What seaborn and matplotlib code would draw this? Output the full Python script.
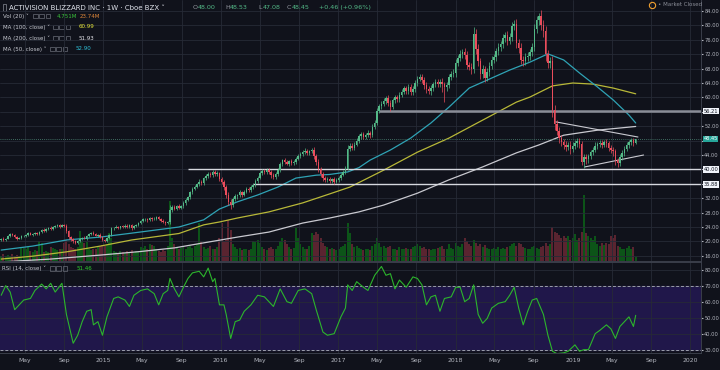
import numpy as np
import pandas as pd
import matplotlib
matplotlib.use("Agg")
import matplotlib.pyplot as plt
import matplotlib.dates as mdates
import matplotlib.transforms as mtransforms
from matplotlib.patches import Rectangle
from matplotlib.lines import Line2D
import seaborn as sns

# ---------------- data (weekly bars, first bar week of 2014-02-17) ----------------
start_date = "2014-02-17"
first_open = 20.5
closes = [
    20.7, 20.3, 20.8, 21.5, 22.0, 21.8, 21.2, 20.8, 21.0, 21.4,
    21.6, 21.8, 22.2, 21.9, 22.0, 22.3, 22.1, 22.6, 23.2, 23.0,
    23.4, 23.8, 23.5, 24.0, 24.2, 24.5, 24.1, 24.6, 24.3, 22.8,
    21.2, 20.6, 20.0, 19.6, 20.1, 20.6, 21.0, 20.8, 21.4, 22.0,
    22.4, 22.1, 21.6, 21.8, 21.3, 20.4, 20.2, 21.0, 21.8, 23.6,
    23.8, 24.1, 23.8, 24.2, 23.9, 24.4, 24.0, 24.5, 23.7, 24.2,
    24.6, 25.1, 25.7, 26.1, 26.3, 25.9, 26.4, 26.1, 26.3, 26.7,
    26.2, 25.8, 25.4, 25.0, 25.3, 28.8, 29.6, 29.1, 29.8, 29.4,
    29.7, 30.6, 31.6, 32.2, 33.6, 34.6, 35.2, 35.9, 36.6, 36.2,
    37.5, 38.2, 38.8, 38.4, 39.2, 38.7, 38.9, 37.4, 36.6, 35.2,
    33.0, 31.0, 30.2, 31.8, 32.5, 32.8, 33.6, 33.0, 33.8, 34.6,
    34.2, 35.0, 35.6, 36.8, 37.6, 39.0, 39.5, 39.2, 39.8, 39.3,
    38.4, 37.8, 38.6, 39.8, 41.5, 42.5, 42.0, 41.6, 42.2, 41.7,
    42.0, 43.0, 43.6, 44.2, 44.8, 45.2, 44.6, 45.0, 45.4, 43.6,
    42.0, 40.0, 38.6, 37.6, 37.0, 37.4, 36.8, 37.2, 36.6, 37.0,
    37.6, 38.5, 39.4, 40.2, 45.8, 46.6, 46.0, 46.9, 48.0, 49.2,
    49.8, 49.0, 49.6, 50.2, 49.5, 51.8, 53.0, 56.2, 57.5, 58.2,
    59.0, 59.8, 58.4, 57.4, 59.2, 60.0, 59.5, 60.8, 61.6, 62.5,
    61.8, 62.8, 61.6, 62.4, 64.0, 65.2, 65.6, 64.8, 63.4, 62.2,
    61.8, 62.6, 63.6, 64.2, 63.8, 64.4, 63.6, 62.8, 63.5, 65.6,
    66.5, 66.8, 69.5, 71.0, 72.0, 72.5, 71.8, 69.0, 68.5, 67.8,
    77.5, 73.5, 70.0, 66.5, 67.8, 65.5, 67.0, 68.8, 70.5, 71.2,
    72.8, 74.0, 74.8, 76.5, 77.2, 75.8, 76.8, 79.8, 80.5, 75.0,
    73.8, 70.5, 70.0, 71.2, 71.5, 72.5, 74.0, 79.0, 81.5, 82.5,
    80.0, 78.4, 72.0, 69.5, 70.0, 56.5, 52.5, 50.8, 48.6, 47.5,
    46.8, 46.2, 46.9, 45.8, 46.5, 47.4, 47.8, 47.0, 42.0, 43.4,
    42.8, 43.6, 44.8, 45.4, 46.6, 47.0, 47.4, 46.8, 47.6, 47.2,
    46.0, 45.4, 45.0, 42.6, 41.8, 43.5, 44.6, 45.8, 46.8, 47.6,
    48.2, 47.4, 48.45,
]
upper_wick = [
    .3, .4, .2, .3, .3, .4, .3, .2, .3, .3,
    .3, .2, .3, .4, .2, .3, .3, .2, .3, .4,
    .3, .2, .4, .3, .3, .2, .4, .3, .3, .4,
    .5, .3, .4, .3, .3, .3, .2, .4, .3, .3,
    .3, .4, .3, .2, .4, .3, .3, .2, .3, .4,
    .3, .4, .3, .2, .4, .3, .3, .4, .3, .3,
    .3, .4, .3, .4, .3, .3, .4, .3, .4, .3,
    .4, .3, .4, .3, .3, 1.2, .5, .6, .4, .5,
    .4, .5, .4, .5, .4, .6, .5, .4, .6, .5,
    .5, .6, .4, .6, .5, .6, .7, .5, .6, .5,
    .6, .8, .7, .5, .6, .5, .6, .5, .6, .5,
    .5, .6, .5, .6, .5, .6, .7, .5, .6, .5,
    .6, .5, .6, .5, .6, .5, .7, .6, .5, .6,
    .6, .5, .6, .5, .6, .7, .6, .5, .6, .9,
    .7, .8, .7, .6, .6, .5, .6, .5, .6, .5,
    .5, .6, .5, .7, 1.0, .8, .7, .6, .7, .6,
    .6, .7, .6, .7, .6, .7, .8, .9, .8, .7,
    .8, .7, .9, .8, .7, .8, .7, .8, .7, .8,
    .8, .9, .8, .7, .9, .8, 1.0, .8, .9, .8,
    .9, .8, .7, .9, .8, .7, .9, .8, .9, 1.0,
    .8, 1.0, 1.2, .9, 1.1, 1.0, 1.2, 1.0, .9, 1.1,
    2.0, 1.5, 1.2, 1.0, 1.1, .9, 1.2, 1.0, 1.1, .9,
    1.0, 1.1, .9, 1.2, 1.0, 1.3, 1.1, 1.2, 1.0, 1.4,
    1.2, 1.3, 1.0, 1.1, 1.2, 1.0, 1.1, 1.4, 1.2, 1.0,
    1.8, 1.4, 1.5, 1.2, 1.3, 1.5, 1.4, 1.2, 1.1, 1.0,
    .9, 1.0, .8, .9, 1.0, .8, .9, .8, .9, .8,
    .9, .8, .7, .8, .9, .7, .8, .9, .7, .8,
    .8, .9, .7, .8, .7, .9, .8, .7, .8, .6,
    .5, .6, .08,
]
lower_wick = [
    .3, .2, .3, .2, .3, .4, .3, .3, .2, .3,
    .2, .3, .3, .2, .3, .2, .3, .3, .2, .3,
    .3, .3, .2, .3, .2, .3, .3, .2, .3, .4,
    .5, .6, .4, .4, .3, .3, .3, .2, .3, .2,
    .3, .3, .2, .3, .3, .4, .3, .3, .2, .3,
    .3, .2, .4, .3, .3, .2, .3, .3, .4, .3,
    .3, .3, .2, .3, .3, .4, .3, .3, .2, .3,
    .3, .4, .3, .4, .3, .5, .6, .5, .4, .5,
    .4, .5, .4, .5, .4, .5, .4, .5, .4, .5,
    .5, .4, .6, .5, .4, .6, .5, .7, .6, .8,
    1.0, .9, 1.2, .6, .5, .6, .5, .6, .5, .4,
    .6, .5, .4, .6, .5, .4, .5, .6, .5, .6,
    .7, .6, .5, .5, .4, .5, .6, .5, .6, .5,
    .6, .5, .4, .5, .6, .5, .6, .5, .4, .6,
    .7, .8, .7, .9, .6, .5, .6, .5, .7, .5,
    .6, .5, .4, .6, .5, .6, .7, .6, .5, .6,
    .7, .6, .5, .6, .7, .6, .5, .7, .6, .8,
    .7, .8, .9, 1.2, .7, .8, .9, .7, .8, .7,
    .9, .8, .9, 1.0, .8, .9, .7, .8, 1.0, .9,
    .8, 1.0, .9, .8, .9, 1.0, 2.0, 4.0, 1.0, .9,
    .8, .9, 1.0, .8, 1.0, 1.1, 1.0, 1.2, .9, 1.4,
    1.0, 1.4, 1.2, 1.5, 1.0, 1.3, 1.0, 1.1, .9, 1.0,
    1.1, .9, 1.2, 1.0, 1.1, 1.3, 1.0, 1.2, 1.1, 1.2,
    1.5, 1.2, 1.4, 1.0, 1.2, 1.1, 1.0, 1.2, 1.1, 1.3,
    1.4, 1.5, 1.8, 1.2, 1.4, 2.0, 1.5, 1.3, 1.2, 1.1,
    1.0, 1.1, .9, 1.4, 1.0, .9, 1.1, 1.0, .8, 1.5,
    1.3, .9, .8, .8, .7, .8, .9, .8, .7, .9,
    1.0, .9, 1.2, 1.3, 1.0, .8, .9, .8, .7, .8,
    .9, .8, .3,
]
volume_m = [
    7, 9, 6, 8, 7, 9, 6, 8, 7, 18,
    17, 15, 18, 13, 12, 14, 13, 26, 24, 12,
    13, 12, 18, 17, 15, 14, 16, 15, 24, 27,
    22, 18, 17, 16, 18, 39, 26, 24, 25, 15,
    14, 16, 15, 18, 20, 21, 19, 22, 36, 30,
    13, 12, 11, 13, 12, 11, 13, 12, 14, 11,
    13, 12, 18, 17, 19, 16, 22, 21, 20, 15,
    13, 12, 14, 13, 20, 78, 30, 22, 18, 16,
    17, 19, 16, 18, 20, 17, 19, 22, 50, 25,
    18, 16, 17, 19, 15, 16, 18, 30, 49, 26,
    28, 53, 40, 22, 18, 15, 17, 14, 16, 15,
    14, 16, 26, 25, 27, 24, 18, 15, 14, 17,
    18, 16, 15, 20, 26, 30, 28, 22, 18, 16,
    17, 43, 30, 22, 18, 16, 15, 20, 36, 34,
    38, 35, 30, 24, 20, 18, 16, 17, 15, 14,
    16, 18, 20, 22, 49, 36, 22, 18, 20, 17,
    15, 14, 16, 15, 14, 20, 22, 30, 24, 18,
    20, 17, 18, 19, 16, 15, 14, 18, 16, 15,
    17, 16, 15, 18, 20, 22, 19, 17, 18, 16,
    15, 14, 16, 15, 17, 18, 20, 16, 15, 22,
    17, 16, 24, 20, 18, 22, 30, 26, 22, 19,
    28, 24, 20, 22, 18, 21, 17, 16, 15, 17,
    16, 18, 15, 17, 16, 18, 20, 22, 24, 20,
    23, 22, 18, 17, 16, 15, 18, 20, 17, 16,
    18, 20, 24, 19, 22, 44, 38, 36, 34, 30,
    32, 30, 33, 28, 30, 35, 27, 30, 38, 86,
    36, 32, 30, 28, 33, 22, 20, 23, 21, 24,
    22, 32, 30, 34, 20, 18, 16, 15, 17, 20,
    16, 18, 4.75,
]

ma50_week = [0, 14, 29, 44, 58, 79, 90, 97, 105, 114, 123, 131, 140, 146, 154, 159,
             164, 173, 182, 191, 199, 208, 217, 226, 235, 243, 250, 257, 265, 272, 279, 282]
ma50_val = [17.6, 18.7, 20.4, 21.2, 22.3, 24.0, 26.0, 29.0, 31.0, 32.9, 35.1, 37.6, 38.4, 38.6,
            39.3, 40.5, 42.6, 45.4, 48.7, 52.9, 57.3, 62.6, 65.1, 67.6, 69.8, 72.1, 70.4, 66.8,
            62.9, 59.3, 55.1, 52.9]
ma100_week = [0, 14, 29, 44, 58, 79, 90, 97, 105, 119, 134, 146, 155, 170, 185, 199, 214, 229,
              235, 245, 254, 263, 272, 282]
ma100_val = [15.1, 15.9, 17.1, 18.7, 20.4, 22.2, 24.6, 25.4, 26.5, 28.2, 30.7, 33.2, 35.1, 39.8,
             44.8, 48.7, 53.7, 58.7, 60.1, 63.2, 64.0, 63.7, 62.6, 61.0]
ma200_week = [0, 22, 44, 62, 77, 90, 105, 119, 134, 146, 159, 170, 185, 199, 214, 229, 239,
              250, 265, 282]
ma200_val = [14.3, 15.1, 16.2, 17.2, 18.2, 19.6, 21.2, 22.6, 25.1, 26.5, 28.2, 30.1, 33.4, 37.1,
             40.7, 44.6, 46.8, 49.5, 50.9, 51.93]

rsi_week = [0, 2, 4, 6, 8, 10, 13, 15, 18, 20, 22, 24, 27, 29, 32, 34, 36, 38, 40, 41,
            43, 45, 47, 50, 52, 55, 57, 59, 62, 65, 68, 70, 72, 74, 75, 77, 79, 81, 83, 85,
            88, 90, 92, 94, 95, 97, 99, 100, 102, 104, 106, 108, 111, 114, 117, 119, 121, 124, 127, 129,
            132, 135, 138, 140, 143, 145, 148, 151, 153, 154, 156, 158, 161, 163, 166, 169, 171, 173, 175, 177,
            180, 183, 185, 187, 189, 191, 193, 195, 197, 200, 202, 204, 206, 208, 210, 212, 214, 216, 218, 221,
            224, 226, 228, 230, 232, 234, 236, 238, 241, 243, 245, 247, 250, 252, 255, 257, 259, 261, 264, 266,
            269, 271, 273, 275, 277, 279, 281, 282]
rsi_val = [64, 70, 66, 55, 58, 61, 62, 67, 71, 68, 71.5, 66, 71.5, 52, 34, 39, 47.5, 54, 55, 45.5,
           47.5, 39, 50.5, 62, 63, 61, 57, 64, 67, 68, 65, 58, 65, 67, 74.5, 68, 63, 69, 74.5, 78,
           79, 75.5, 81, 72.5, 74.5, 58, 58, 52, 37, 47.5, 48.5, 54, 58, 64, 63, 60, 57, 68, 60, 59,
           67, 68, 65, 55, 41, 39, 40, 50.5, 56, 70.5, 67, 72.5, 69, 67, 76.5, 82, 76.5, 77.5, 68, 73.5,
           69, 75.5, 74.5, 70.5, 58, 63, 64, 54, 62, 63, 69, 69, 60, 62, 70.5, 52, 46.5, 49.5, 56, 59,
           60, 64, 69, 56, 45.5, 54, 61, 62, 52, 39, 29, 27.5, 28, 29, 33, 29, 30, 30, 40, 42,
           45.5, 43, 37, 44.5, 47.5, 50.5, 44.5, 51.46]

level_prices = [56.21, 40.00, 35.88]
level_start_week = [168, 83, 112]
last_price = 48.45
trend_upper_week = [246.5, 283.0]
trend_upper_val = [53.2, 49.0]
trend_lower_week = [259.4, 285.5]
trend_lower_val = [40.7, 44.0]

price_ticks = [16, 20, 24, 28, 32, 36, 40, 44, 48, 52, 56, 60, 64, 68, 72, 76, 80, 84]
hidden_price_labels = [36, 40, 48, 56]
rsi_ticks = [30, 40, 50, 60, 70, 80]
time_tick_dates = ["2014-05-01", "2014-09-01", "2015-01-01", "2015-05-01", "2015-09-01",
                   "2016-01-01", "2016-05-01", "2016-09-01", "2017-01-01", "2017-05-01",
                   "2017-09-01", "2018-01-01", "2018-05-01", "2018-09-01", "2019-01-01",
                   "2019-05-01", "2019-09-01", "2020-01-01"]
time_tick_labels = ["May", "Sep", "2015", "May", "Sep", "2016", "May", "Sep", "2017", "May",
                    "Sep", "2018", "May", "Sep", "2019", "May", "Sep", "2020"]

# ---------------- style ----------------
BG = "#10121b"
GRID = "#262a36"
TXT = "#b2b5be"
UP, DN = "#53b987", "#eb4d5c"
VUP, VDN = "#0c5418", "#5a2430"

sns.set_style("dark", {"axes.facecolor": BG, "figure.facecolor": BG})
plt.rcParams["font.family"] = ["DejaVu Sans"]

W, H = 720, 370
XR = 701  # right edge of plotting area in px
fig = plt.figure(figsize=(7.2, 3.7), dpi=100, facecolor=BG)


def rect(x0, y0, x1, y1):
    return [x0 / W, 1 - y1 / H, (x1 - x0) / W, (y1 - y0) / H]


ax = fig.add_axes(rect(0, 0, XR, 261))
axr = fig.add_axes(rect(0, 262, XR, 353))
axv = ax.twinx()

t0 = mdates.date2num(pd.Timestamp(start_date))
ref = mdates.date2num(pd.Timestamp("2019-01-01"))
days_per_px = 2187.1 / 703.0
xlim = (ref - 1782.7, ref - 1782.7 + XR * days_per_px)


def wk(w):
    return t0 + 7.0 * np.asarray(w, dtype=float)


n = len(closes)
x = wk(np.arange(n))
c = np.array(closes)
o = np.array([first_open] + closes[:-1])
hi = np.maximum(o, c) + np.array(upper_wick)
lo = np.minimum(o, c) - np.array(lower_wick)
isup = c >= o
cols = np.where(isup, UP, DN)

# volume (behind)
axv.bar(x, volume_m, width=6.2, color=np.where(isup, VUP, VDN), linewidth=0)
axv.set_ylim(0, 340)
axv.set_yticks([])
for s in axv.spines.values():
    s.set_visible(False)
ax.set_zorder(axv.get_zorder() + 1)
ax.patch.set_visible(False)
axv.patch.set_facecolor(BG)

# grid
tick_nums = [mdates.date2num(pd.Timestamp(d)) for d in time_tick_dates]
for a in (ax, axr):
    a.set_xlim(*xlim)
    a.set_xticks(tick_nums)
    a.grid(True, color=GRID, linewidth=0.6)
    a.set_axisbelow(True)

ax.set_ylim(14.56, 87.06)
ax.set_yticks(price_ticks)
ax.set_yticklabels(["" if p in hidden_price_labels else f"{p:.2f}" for p in price_ticks])
ax.yaxis.tick_right()
ax.tick_params(axis="y", direction="out", length=1.5, pad=0.8, labelsize=3.7, colors=TXT)
ax.tick_params(axis="x", length=0, labelbottom=False)
for k, s in ax.spines.items():
    s.set_visible(k in ("right", "bottom"))
    s.set_color("#3a3e4a")
    s.set_linewidth(0.7)

# MAs
sns.lineplot(x=wk(ma100_week), y=ma100_val, ax=ax, color="#b8b838", linewidth=0.9)
sns.lineplot(x=wk(ma200_week), y=ma200_val, ax=ax, color="#c9c9d0", linewidth=0.9)
sns.lineplot(x=wk(ma50_week), y=ma50_val, ax=ax, color="#2fa3b5", linewidth=0.9)

# horizontal levels
ax.hlines(level_prices[0], wk(level_start_week[0]), xlim[1], color="#8a8d97", linewidth=1.8, zorder=3)
for p, s in zip(level_prices[1:], level_start_week[1:]):
    ax.hlines(p, wk(s), xlim[1], color="#d6d8de", linewidth=1.0, zorder=3)
ax.axhline(last_price, color="#4f8a78", linewidth=0.6, linestyle=(0, (1, 1.5)), zorder=3)
ax.plot(wk(trend_upper_week), trend_upper_val, color="#c9c9d0", linewidth=0.8, zorder=3)
ax.plot(wk(trend_lower_week), trend_lower_val, color="#c9c9d0", linewidth=0.8, zorder=3)

# candles
ax.vlines(x, lo, hi, colors=cols, linewidth=0.5, zorder=4)
ax.bar(x, np.maximum(np.abs(c - o), 0.1), bottom=np.minimum(o, c), width=4.6,
       color=cols, linewidth=0, zorder=5)
ax.set_xlabel("")
ax.set_ylabel("")

# right price boxes
btr = mtransforms.blended_transform_factory(ax.transAxes, ax.transData)
for p, fc, tc in [(level_prices[0], "#f0f3fa", "#131722"), (last_price, "#26a69a", "white"),
                  (level_prices[1], "#f0f3fa", "#131722"), (level_prices[2], "#f0f3fa", "#131722")]:
    ax.text(1.0035, p, f"{p:.2f}", transform=btr, fontsize=3.7, color=tc, va="center", ha="left",
            clip_on=False, zorder=10,
            bbox=dict(boxstyle="square,pad=0.15", fc=fc, ec="none"))

# RSI panel
axr.axhspan(30, 70, color="#20174a", zorder=0)
axr.axhline(70, color="#9a9cab", linewidth=0.7, linestyle=(0, (3, 2)), zorder=2)
axr.axhline(30, color="#9a9cab", linewidth=0.7, linestyle=(0, (3, 2)), zorder=2)
sns.lineplot(x=wk(rsi_week), y=rsi_val, ax=axr, color="#2cb52c", linewidth=0.8, zorder=3)
axr.set_ylim(27.9, 84.8)
axr.set_yticks(rsi_ticks)
axr.set_yticklabels([f"{v:.2f}" for v in rsi_ticks])
axr.yaxis.tick_right()
axr.tick_params(axis="y", direction="out", length=1.5, pad=0.8, labelsize=3.7, colors=TXT)
axr.set_xticklabels(time_tick_labels)
axr.tick_params(axis="x", length=0, pad=3.5, labelsize=4.4, colors=TXT)
axr.set_xlabel("")
axr.set_ylabel("")
for k, s in axr.spines.items():
    s.set_visible(k in ("right", "bottom", "top"))
    s.set_color("#3a3e4a")
    s.set_linewidth(0.7)


# ---------------- header / legends ----------------
def P(px, py):
    return px / W, 1 - py / H


def txt(px, py, s, color="#c8cad2", size=4.0, weight="normal"):
    fig.text(*P(px, py), s, color=color, fontsize=size, va="center", ha="left", fontweight=weight)


def icons(px, py):
    for k in range(3):
        fig.add_artist(Rectangle(P(px + k * 6.3, py + 2.4), 4.6 / W, 4.8 / H,
                                 transform=fig.transFigure, fill=False,
                                 edgecolor="#6a6d78", linewidth=0.5))


fig.add_artist(Rectangle(P(2.5, 10.5), 3 / W, 6 / H, transform=fig.transFigure,
                         fill=False, edgecolor="#8a8d97", linewidth=0.5))
txt(9, 7.5, "ACTIVISION BLIZZARD INC · 1W · Cboe BZX ˅", color="#e0e3eb", size=5.0)
GV = "#53b987"
for lab, val, px in [("O", "48.00", 193), ("H", "48.53", 225), ("L", "47.08", 258), ("C", "48.45", 287)]:
    txt(px, 7.5, lab, color="#9598a1", size=4.6)
    txt(px + 4.5, 7.5, val, color=GV, size=4.6)
txt(319, 7.5, "+0.46 (+0.96%)", color=GV, size=4.6)

txt(3, 16, "Vol (20) ˅")
icons(33, 16)
txt(57, 16, "4.751M", color="#3ac43a")
txt(80, 16, "23.74M", color="#e0883a")
txt(3, 27, "MA (100, close) ˅")
icons(53, 27)
txt(79, 27, "60.99", color="#e8e83a")
txt(3, 38, "MA (200, close) ˅")
icons(53, 38)
txt(79, 38, "51.93", color="#e8e8ee")
txt(3, 49, "MA (50, close) ˅")
icons(50, 49)
txt(76, 49, "52.90", color="#2fc0d8")
txt(2, 268.5, "RSI (14, close) ˅")
icons(50, 268.5)
txt(77, 268.5, "51.46", color="#2fd02f")

fig.add_artist(Line2D([652 / W], [1 - 4.5 / H], marker="o", markersize=4.5, markerfacecolor="none",
                      markeredgecolor="#f0a030", markeredgewidth=0.8, transform=fig.transFigure))
txt(658, 4.5, "• Market Closed", color="#8a8d97", size=4.0)

fig.savefig("out.png", dpi=100, facecolor=BG)
